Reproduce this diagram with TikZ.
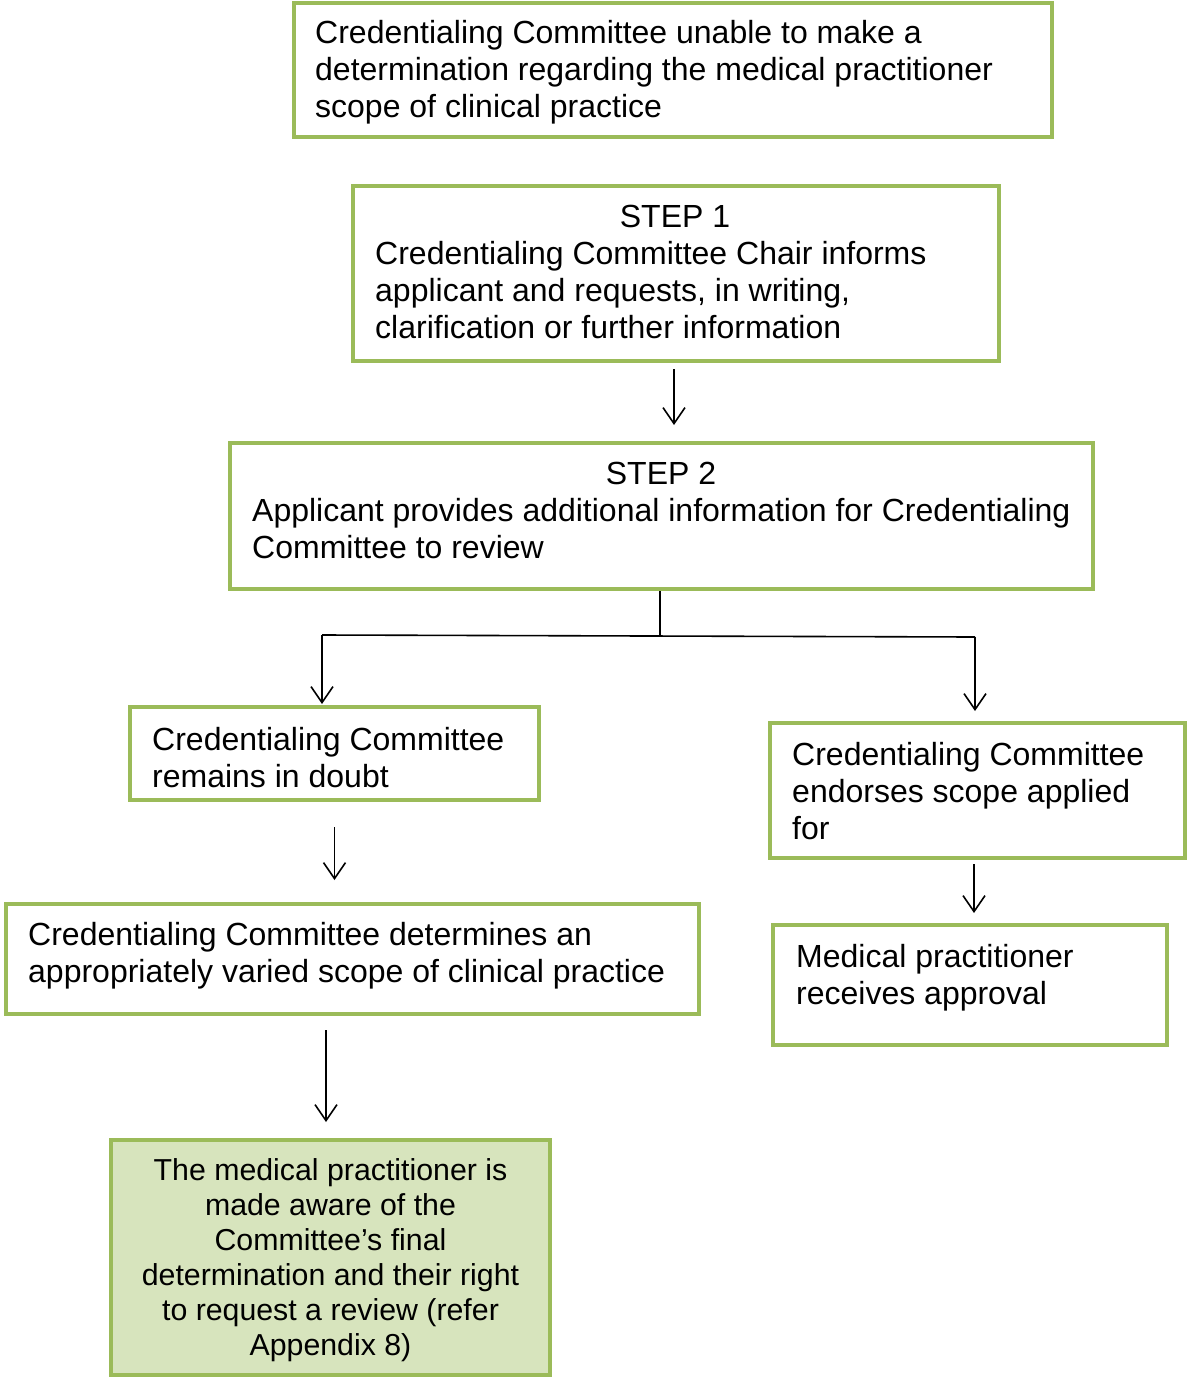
\documentclass[tikz,border=0pt]{standalone}
\usepackage{fontspec}
\setmainfont{Liberation Sans}
\usetikzlibrary{arrows.meta}
\definecolor{boxgreen}{HTML}{9BBB59}
\definecolor{boxfill}{HTML}{D7E4BD}
\tikzset{
  box/.style={draw=boxgreen, line width=4pt, rectangle, inner sep=0pt},
  txt/.style={font=\fontsize{32}{37}\selectfont, inner sep=0pt, align=left, anchor=west},
  arr/.style={-{Straight Barb[length=16pt,width=22pt]}, line width=1.6pt, black},
  lnk/.style={line width=1.6pt, black}
}
\begin{document}
\begin{tikzpicture}[x=1pt,y=-1pt]
\useasboundingbox (0,0) rectangle (1188,1378);
% boxes
\node[box, minimum width=758pt, minimum height=134pt] (b1) at (673,70) {};
\node[box, minimum width=646pt, minimum height=175pt] (b2) at (676,273.5) {};
\node[box, minimum width=863pt, minimum height=146pt] (b3) at (661.5,516) {};
\node[box, minimum width=409pt, minimum height=93pt] (b4) at (334.5,753.5) {};
\node[box, minimum width=415pt, minimum height=135pt] (b5) at (977.5,790.5) {};
\node[box, minimum width=693pt, minimum height=110pt] (b6) at (352.5,959) {};
\node[box, minimum width=394pt, minimum height=120pt] (b7) at (970,985) {};
\node[box, fill=boxfill, minimum width=439pt, minimum height=235pt] (b8) at (330.5,1257.5) {};
% texts
\node[txt] (t1) at (315,72) {Credentialing Committee unable to make a\\determination regarding the medical practitioner\\scope of clinical practice};
\node[txt, anchor=center] (s1) at (675,216) {STEP 1};
\node[txt] (t2) at (375,290) {Credentialing Committee Chair informs\\applicant and requests, in writing,\\clarification or further information};
\node[txt, anchor=center] (s2) at (661,473) {STEP 2};
\node[txt] (t3) at (252,528.5) {Applicant provides additional information for Credentialing\\Committee to review};
\node[txt] (t4) at (152,758) {Credentialing Committee\\remains in doubt};
\node[txt] (t5) at (792,791.5) {Credentialing Committee\\endorses scope applied\\for};
\node[txt] (t6) at (28,955.5) {Credentialing Committee determines an\\appropriately varied scope of clinical practice};
\node[txt] (t7) at (796,977.5) {Medical practitioner\\receives approval};
\node[txt, align=center, anchor=center, font=\fontsize{30.3}{35}\selectfont] (t8) at (330.5,1260) {The medical practitioner is\\made aware of the\\Committee’s final\\determination and their right\\to request a review (refer\\Appendix 8)};
% connectors
\coordinate (split) at (660,635);
\coordinate (jl) at (322,635);
\coordinate (jr) at (975,637);
\draw[arr] ([xshift=-2pt,yshift=-6pt]b2.south) -- ([xshift=-2pt,yshift=16pt]b2.south |- b3.north);
\draw[lnk] ([xshift=-1.5pt]b3.south) -- (split);
\draw[lnk] (jl) -- (jr);
\draw[arr] (jl) -- ([yshift=1pt]jl |- b4.north);
\draw[arr] (jr) -- ([yshift=10pt]jr |- b5.north);
\draw[arr] ([yshift=-25pt]b4.south) -- ([yshift=22pt]b4.south |- b6.north);
\draw[arr] ([xshift=-3.5pt,yshift=-4pt]b5.south) -- ([xshift=-3.5pt,yshift=10pt]b5.south |- b7.north);
\draw[arr] ([xshift=-26.5pt,yshift=-14pt]b6.south) -- ([xshift=-26.5pt,yshift=16pt]b6.south |- b8.north);
\end{tikzpicture}
\end{document}
